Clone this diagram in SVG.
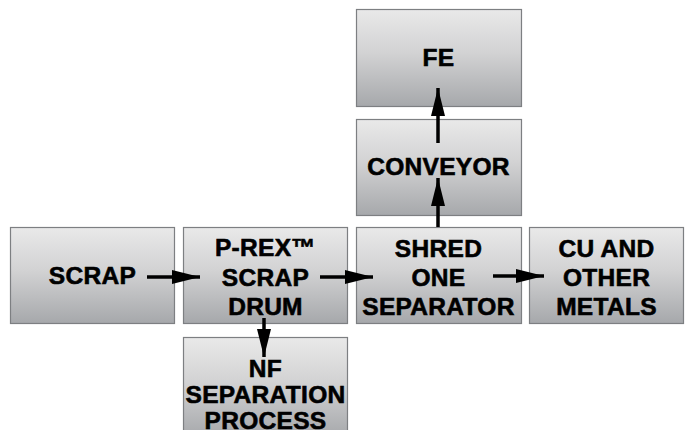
<svg xmlns="http://www.w3.org/2000/svg" width="685" height="430" viewBox="0 0 685 430">
<defs>
<linearGradient id="g" x1="0" y1="0" x2="0" y2="1">
<stop offset="0" stop-color="#e9e9e9"/>
<stop offset="0.45" stop-color="#d2d2d3"/>
<stop offset="1" stop-color="#a6a8ab"/>
</linearGradient>
<marker id="ah" viewBox="0 0 28 14" refX="28" refY="7" markerWidth="28" markerHeight="14" markerUnits="userSpaceOnUse" orient="auto">
<path d="M0,0 L28,7 L0,14 Z" fill="#000"/>
</marker>
<style>
.box{fill:url(#g);stroke:#7d7f82;stroke-width:1.2}
.t{font-family:"Liberation Sans",Arial,Helvetica,sans-serif;font-weight:bold;font-size:24.5px;fill:#000;stroke:#000;stroke-width:0.6;text-anchor:middle;letter-spacing:0.3px}
.c{stroke:#000;stroke-width:3.5;fill:none;marker-end:url(#ah)}
</style>
</defs>
<rect width="685" height="430" fill="#fff"/>
<g id="fe"><rect class="box" x="356.5" y="9.5" width="165" height="97"/><text class="t" x="438.5" y="66">FE</text></g>
<g id="conveyor"><rect class="box" x="356.5" y="119.5" width="165" height="96"/><text class="t" x="438.5" y="175">CONVEYOR</text></g>
<g id="scrap"><rect class="box" x="10.5" y="227.5" width="164" height="96"/><text class="t" x="92.5" y="284">SCRAP</text></g>
<g id="prex"><rect class="box" x="183.5" y="227.5" width="164" height="96"/><text class="t" x="265.5" y="256">P-REX™</text><text class="t" x="265.5" y="286">SCRAP</text><text class="t" x="265.5" y="315">DRUM</text></g>
<g id="shred"><rect class="box" x="356.5" y="227.5" width="165" height="96"/><text class="t" x="438.5" y="257">SHRED</text><text class="t" x="438.5" y="286">ONE</text><text class="t" x="438.5" y="315">SEPARATOR</text></g>
<g id="cu"><rect class="box" x="529.5" y="227.5" width="154" height="96"/><text class="t" x="606.5" y="257">CU AND</text><text class="t" x="606.5" y="286">OTHER</text><text class="t" x="606.5" y="315">METALS</text></g>
<g id="nf"><rect class="box" x="183.5" y="337.5" width="164" height="100"/><text class="t" x="265.5" y="377">NF</text><text class="t" x="265.5" y="403">SEPARATION</text><text class="t" x="265.5" y="429">PROCESS</text></g>
<g id="connectors">
<line class="c" x1="147" y1="277" x2="200" y2="277"/>
<line class="c" x1="320" y1="277" x2="373" y2="277"/>
<line class="c" x1="493" y1="276" x2="544" y2="276"/>
<line class="c" x1="264" y1="318" x2="264" y2="357"/>
<line class="c" x1="438" y1="227" x2="438" y2="178"/>
<line class="c" x1="438" y1="143" x2="438" y2="88"/>
</g>
</svg>
